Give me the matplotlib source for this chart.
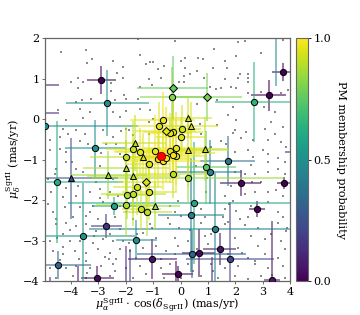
import numpy as np
import matplotlib
matplotlib.use("Agg")
import matplotlib.pyplot as plt
from matplotlib import cm, colors

plt.rcParams['font.family'] = ['DejaVu Serif']
plt.rcParams['mathtext.fontset'] = 'dejavuserif'

# ---------------- background field stars ----------------
bg_x = [-4.36,-3.44,-3.22,-3.41,-2.45,-2.12,-1.54,-1.50,-1.10,-0.99,-0.84,-0.62,-1.25,-2.31,-2.09,-3.74,-3.99,-3.74,-3.55,-2.53,-2.53,-2.05,-1.47,-1.14,-0.73,-1.06,
        -0.22,2.09,2.34,3.74,1.21,0.62,0.81,0.15,0.0,1.61,2.01,2.93,0.15,0.59,1.17,1.68,0.11,0.33,0.11,-0.04,0.84,1.61,2.16,2.45,2.45,2.45,2.09,1.83,2.01,1.47,1.28,1.06,2.93,3.66,3.92,2.45,
        -3.81,-3.59,-3.26,-2.38,-2.01,-1.54,-1.47,-2.45,-2.01,-3.66,-3.30,-4.18,-3.55,-4.29,-3.81,-4.10,-3.48,-4.40,-2.45,-2.16,-2.01,-2.34,-2.71,-3.37,-3.66,-4.40,-4.18,-4.76,-2.89,-2.23,-1.87,-1.72,-1.17,-1.10,-1.17,-0.99,-2.20,-2.82,-4.47,-4.76,
        0.59,1.32,1.90,1.72,2.01,1.32,1.98,1.90,2.20,1.65,1.47,1.10,0.73,0.70,3.04,3.44,3.30,3.08,3.44,3.74,3.19,3.66,3.85,2.45,1.98,3.00,2.64,3.19,3.55,2.38,2.64,
        -4.18,-4.54,-3.81,-3.55,-2.93,-3.08,-3.74,-4.18,-4.73,-4.29,-3.81,-3.30,-2.93,-2.56,-2.82,-3.19,-3.66,-4.21,-4.65,-3.92,-3.44,-3.00,-2.38,-2.27,-2.20,-2.01,-2.45,-1.72,-4.54,-4.84,
        -0.29,0.55,2.56,3.19,3.81,2.71,3.19,3.55,2.34,3.81,1.61,2.34,2.71,3.19,3.74,1.90,2.56,3.19,1.61,2.01,3.55,3.74,2.45,2.16,0.73,0.88,-0.22,-0.11,-0.37,0.92,0.0,1.54,1.98,1.72,
        -4.54,-4.18,-3.81,-3.44,-3.08,-4.29,-4.76,-4.03,-3.66,-3.19,-2.82,-2.45,-2.09,-4.65,-4.29,-3.85,-3.44,-3.00,-2.56,-2.20,-1.83,-1.36,-0.88,-4.76,-4.18,-3.81,-3.30,-2.89,-2.45,-1.98,-1.47,-4.54,-3.92,-3.44,-2.56,-1.72,-1.25,-0.73,-0.62,-1.06,-1.36,-0.88,-1.61,-2.34,-3.44,-4.40,-2.20,-2.56,
        -0.40,-0.04,0.73,1.61,2.34,2.82,3.55,3.85,-0.22,0.26,0.88,1.98,2.56,3.08,3.66,-0.11,0.99,2.09,2.82,3.81,-0.22,2.45,3.08,3.55,-0.37,0.26,1.10,1.61,2.09,2.71,3.19,3.74,0.0,0.73,1.36,1.98,2.45,2.93,3.81,1.10,1.72,
        -4.05,-3.15,-2.60,-1.90,-4.50,-3.40,-2.75,-0.55,0.45,1.30,2.70,3.30,-4.60,-3.95,-2.95,-1.10,0.35,1.85,2.95,3.50,-4.30,-3.70,-2.40,-0.70,0.60,1.20,2.25,3.35,-4.85,-3.30,-1.60,-0.45,0.95,1.75,2.60,3.90]
bg_y = [1.65,1.70,1.48,1.38,1.43,1.28,1.98,1.58,1.41,1.41,1.23,1.31,1.36,1.14,1.01,1.01,0.91,0.77,0.91,0.89,0.69,0.59,0.79,0.99,1.01,0.84,
        1.93,1.90,1.93,1.95,1.73,1.51,1.48,1.51,1.43,1.43,1.56,1.63,1.26,1.19,1.26,1.26,1.06,1.11,0.91,0.91,1.01,0.99,1.11,1.01,1.11,0.91,1.01,0.79,0.77,0.77,0.74,0.79,0.67,0.64,0.72,0.64,
        0.42,0.47,0.49,0.47,0.49,0.49,0.25,0.17,0.20,0.25,0.17,-0.02,0.02,-0.25,-0.27,-0.37,-0.37,-0.44,-0.44,-0.30,-0.25,-0.62,-0.62,-0.62,-0.54,-0.74,-0.81,-0.77,-0.84,-0.86,-0.27,-0.40,-0.37,0.22,-0.07,0.0,0.05,-0.27,0.22,-0.52,
        0.37,0.47,0.30,0.10,-0.02,-0.15,-0.27,-0.35,-0.47,-0.62,-0.54,-0.69,-0.37,-0.12,0.30,0.17,-0.07,-0.25,-0.37,-0.20,-0.52,-0.57,-0.69,-0.77,-0.81,-0.77,-0.94,-0.86,-0.96,-0.32,-0.52,
        -1.06,-1.23,-1.23,-1.31,-1.16,-1.56,-1.65,-1.70,-1.80,-1.93,-1.90,-1.80,-1.73,-1.80,-2.05,-2.15,-2.17,-2.17,-2.30,-2.42,-2.40,-2.47,-2.42,-1.90,-2.15,-2.30,-1.48,-2.47,-2.47,-1.48,
        -1.04,-1.16,-1.14,-1.06,-1.06,-1.36,-1.31,-1.23,-1.36,-1.36,-1.90,-1.85,-1.80,-1.80,-1.90,-2.02,-2.15,-2.05,-2.22,-2.27,-2.30,-2.42,-2.42,-2.47,-2.22,-2.42,-2.30,-2.02,-2.15,-1.80,-2.40,-2.42,-1.31,-2.54,
        -2.59,-2.57,-2.64,-2.59,-2.77,-2.84,-3.01,-3.01,-3.01,-3.06,-2.96,-3.01,-3.01,-3.26,-3.33,-3.26,-3.31,-3.21,-3.31,-3.21,-3.26,-3.19,-3.14,-3.68,-3.68,-3.63,-3.68,-3.63,-3.58,-3.68,-3.63,-3.93,-3.88,-3.93,-3.88,-3.93,-3.83,-3.68,-3.93,-2.69,-2.81,-2.94,-3.43,-3.46,-3.51,-3.48,-2.72,-2.84,
        -2.59,-2.69,-2.57,-2.59,-2.62,-2.69,-2.57,-2.77,-2.94,-3.01,-2.89,-2.94,-2.89,-2.96,-3.01,-3.14,-3.09,-3.19,-3.14,-3.21,-3.33,-3.43,-3.33,-3.43,-3.58,-3.58,-3.58,-3.68,-3.63,-3.58,-3.68,-3.63,-3.93,-3.88,-3.93,-3.88,-3.95,-3.88,-3.93,-2.84,-3.33,
        -2.75,-2.90,-3.45,-3.05,-2.95,-3.80,-3.40,-3.25,-3.75,-2.75,-3.50,-2.85,-1.35,-1.05,-1.95,-2.60,-2.75,-1.65,-1.55,-1.75,-3.15,-3.45,-3.75,-3.45,-3.20,-3.75,-3.30,-3.85,-2.10,-2.30,-2.85,-2.45,-1.45,-2.10,-1.55,-2.70]

# ---------------- member candidates with errors ----------------
cand_x    = [-2.89, 3.74, 3.22, 2.20, 3.77, 2.78, 1.43, 0.66, 1.80, 0.40, -1.03, -0.10, -3.04, 3.33, -2.71,
             -5.30, -5.30, 4.30, -3.74, -1.98, -1.83, -0.15, -4.76, 1.15, 3.50,
             -2.67, -4.94, -3.11, -2.42, -3.55, -4.47, -4.50, -1.61, 1.72, 0.92, 1.06, 0.26, 0.48, 0.37, 1.25, 2.67, -3.99,
             -0.66, -0.77, -0.37, -0.29, 0.04, 0.00, -1.72, -1.50, -2.01, -0.15, -0.26, -0.29, -1.17, -0.66, -0.15, -0.29,
             -1.58, -1.72, -1.94, -1.14, -1.43, -1.21, -1.98, -0.92, -0.84, -0.55, -0.40, -0.33,
             -0.55, -1.28, -0.29, 0.95,
             0.26, 0.37, -1.68, -1.39, 0.26, 0.88, -1.98, -2.64, -1.72, -0.92]
cand_y    = [0.96, 1.16, 0.59, -1.58, -1.58, -2.22, -3.21, -3.31, -3.46, -3.33, -3.46, -3.83, -3.93, -3.98, -2.64,
             0.84, 0.15, -0.81, -4.30, -4.40, -4.40, -4.40, -4.30, -4.40, 2.30,
             0.40, -0.17, -0.72, -2.15, -2.89, -3.60, -1.56, -2.99, -1.04, -1.19, -1.31, -1.46, -2.07, -2.37, -2.72, 0.42, -1.46,
             -0.02, -0.17, -0.35, -0.32, -0.25, -0.44, -0.74, -0.81, -0.94, -0.72, -0.84, -0.89, -1.11, -1.04, -0.91, -1.36,
             -1.68, -1.85, -1.88, -1.80, -2.22, -2.30, -2.12, -0.79, -0.99, -0.96, -0.79, 0.54,
             -0.30, -1.56, 0.77, 0.54,
             0.02, -0.17, -0.59, -0.94, -0.77, -0.74, -1.21, -1.38, -1.41, -2.15]
cand_xerr = [0.53, 0.40, 0.64, 0.75, 0.25, 0.30, 0.60, 0.60, 1.60, 2.00, 0.90, 0.57, 0.60, 0.30, 0.57,
             0.85, 0.85, 0.50, 0.10, 0.15, 0.15, 0.20, 0.10, 0.10, 0.30,
             1.52, 3.40, 1.10, 0.80, 1.90, 1.20, 2.40, 0.75, 1.00, 1.10, 1.20, 3.50, 4.60, 1.20, 4.60, 1.40, 1.70,
             1.20, 0.90, 0.80, 1.10, 0.70, 0.90, 1.00, 0.90, 1.30, 1.20, 1.50, 1.00, 0.80, 1.40, 1.10, 1.30,
             0.90, 1.20, 0.80, 1.00, 0.70, 0.90, 1.10, 1.50, 1.20, 1.00, 1.30, 1.15,
             1.10, 1.00, 1.30, 1.30,
             0.90, 1.00, 1.20, 0.80, 1.50, 0.90, 1.60, 1.40, 1.70, 0.90]
cand_yerr = [0.35, 0.22, 0.38, 0.33, 0.15, 0.20, 0.40, 0.60, 1.40, 0.60, 0.50, 0.20, 0.30, 1.45, 0.30,
             0.20, 0.20, 0.20, 0.67, 1.26, 1.20, 0.90, 0.40, 1.00, 1.49,
             0.81, 2.03, 0.70, 0.22, 1.30, 0.35, 1.50, 0.50, 0.62, 0.90, 0.80, 0.60, 1.50, 1.40, 1.40, 0.98, 1.00,
             0.70, 0.60, 0.50, 0.80, 0.60, 0.50, 0.70, 0.60, 0.80, 0.90, 0.70, 0.60, 0.80, 0.70, 0.90, 0.60,
             0.70, 0.80, 0.60, 0.70, 0.50, 0.60, 0.80, 0.90, 0.70, 0.60, 0.80, 0.75,
             0.60, 0.70, 0.80, 0.60,
             0.50, 0.60, 0.70, 0.60, 0.90, 0.80, 0.70, 0.60, 0.90, 0.60]
cand_prob = [0.00, 0.00, 0.00, 0.02, 0.00, 0.00, 0.05, 0.02, 0.20, 0.30, 0.05, 0.00, 0.02, 0.05, 0.15,
             0.08, 0.12, 0.10, 0.05, 0.12, 0.18, 0.02, 0.10, 0.10, 0.50,
             0.50, 0.48, 0.50, 0.58, 0.52, 0.32, 0.62, 0.50, 0.38, 0.75, 0.45, 0.85, 0.60, 0.42, 0.45, 0.65, 0.25,
             0.97, 0.95, 0.96, 0.95, 0.93, 0.95, 0.92, 0.96, 0.90, 0.97, 0.95, 0.98, 0.95, 0.97, 0.96, 0.90,
             0.93, 0.90, 0.88, 0.94, 0.92, 0.90, 0.88, 0.97, 0.96, 0.98, 0.95, 0.82,
             0.96, 0.94, 0.76, 0.80,
             0.92, 0.94, 0.90, 0.95, 0.93, 0.90, 0.88, 0.85, 0.90, 0.86]
cand_mark = (['o'] * 15 + ['o'] * 10 + ['o'] * 16 + ['^'] + ['o'] * 28 + ['D'] * 4 + ['^'] * 10)

sgr_center = (-0.70, -0.91)

# ---------------- figure ----------------
fig = plt.figure(figsize=(3.6, 3.15), dpi=100)
ax = fig.add_axes([0.125, 0.108, 0.681, 0.771])
cax = fig.add_axes([0.822, 0.108, 0.033, 0.771])

cmap = matplotlib.colormaps['viridis']
norm = colors.Normalize(0, 1)

ax.scatter(bg_x, bg_y, s=1.6, c='#8a8a8a', marker='s', linewidths=0, zorder=1)

order = np.argsort(cand_prob, kind='stable')
for i in order:
    col = cmap(norm(cand_prob[i]))
    ax.errorbar(cand_x[i], cand_y[i], xerr=cand_xerr[i], yerr=cand_yerr[i],
                fmt='none', ecolor=col, elinewidth=1.1, alpha=0.7, zorder=2 + cand_prob[i])
for i in order:
    col = cmap(norm(cand_prob[i]))
    ms = 4.5 if cand_mark[i] != 'D' else 4.2
    ax.plot(cand_x[i], cand_y[i], marker=cand_mark[i], ms=ms, mfc=col, mec='black',
            mew=0.7, ls='none', zorder=5 + cand_prob[i])

ax.plot(*sgr_center, marker='o', ms=6, mfc='red', mec='darkred', mew=0.6, zorder=10)

ax.set_xlim(-4.95, 4)
ax.set_ylim(-4, 2)
ax.set_xticks([-4, -3, -2, -1, 0, 1, 2, 3, 4])
ax.set_yticks([-4, -3, -2, -1, 0, 1, 2])
ax.tick_params(labelsize=8, length=2.5, width=0.6, color='#555555', direction='out', pad=1.5)
for s in ax.spines.values():
    s.set_color('#666666')
    s.set_linewidth(0.9)
ax.set_xlabel(r'$\mu_{\alpha}^{\rm SgrII}\cdot\,\cos(\delta_{\rm SgrII})$ (mas/yr)', fontsize=8, labelpad=0)
ax.set_ylabel(r'$\mu_{\delta}^{\rm SgrII}$ (mas/yr)', fontsize=8, labelpad=0)

cb = fig.colorbar(cm.ScalarMappable(norm=norm, cmap=cmap), cax=cax)
cb.set_ticks([0.0, 0.5, 1.0])
cb.ax.tick_params(labelsize=8, length=2.5, width=0.6, pad=1.5)
cb.outline.set_edgecolor('#666666')
cb.set_label('PM membership probability', fontsize=8, rotation=270, labelpad=11)

fig.savefig('out.png', dpi=100)
